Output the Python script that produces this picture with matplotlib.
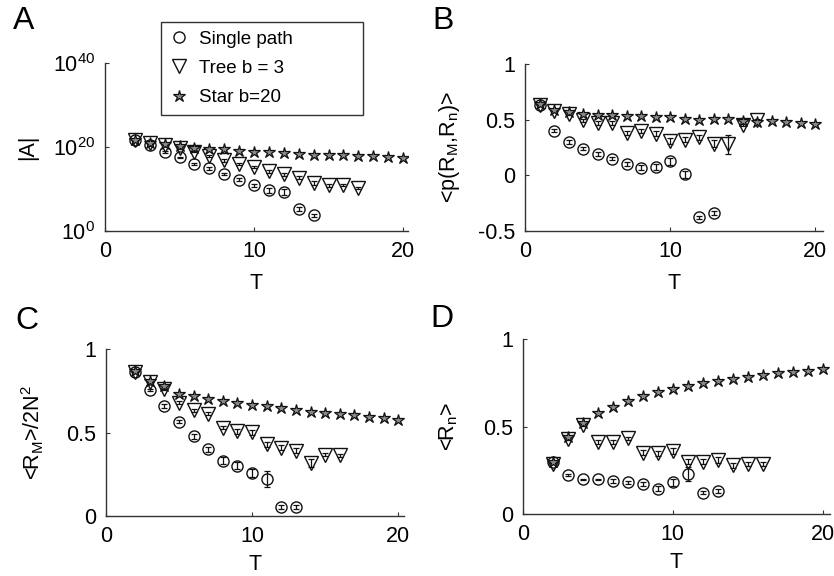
import numpy as np
import matplotlib
matplotlib.use('Agg')
import matplotlib.pyplot as plt

plt.rcParams['font.family'] = ['Liberation Sans', 'DejaVu Sans']
plt.rcParams['mathtext.fontset'] = 'custom'
plt.rcParams['mathtext.rm'] = 'Liberation Sans'
plt.rcParams['mathtext.it'] = 'Liberation Sans:italic'
plt.rcParams['mathtext.default'] = 'regular'

# ---- data ----
labels = ['Single path', 'Tree b = 3', 'Star b=20']

# A : log10 |A|
A_T_sp = list(range(2, 15))
A_sp = [21.7, 20.4, 18.8, 17.5, 16.0, 14.9, 13.6, 12.2, 10.9, 9.7, 9.2, 5.2, 3.7]
A_sp_err = [0.2, 0.2, 0.2, 0.2, 0.3, 0.3, 0.3, 0.4, 0.4, 0.6, 0.7, 0.4, 0.4]
A_T_tree = list(range(2, 18))
A_tree = [21.7, 20.9, 20.4, 19.8, 18.9, 17.8, 16.8, 16.0, 15.2, 14.2, 13.5, 12.7, 11.4, 10.9, 11.0, 10.2]
A_tree_err = [0.2, 0.2, 0.2, 0.2, 0.2, 0.3, 0.3, 0.3, 0.3, 0.3, 0.3, 0.3, 0.4, 0.4, 0.3, 0.3]
A_T_star = list(range(2, 21))
A_star = [21.7, 21.0, 20.6, 20.2, 19.8, 19.6, 19.4, 19.0, 18.9, 18.7, 18.6, 18.4, 18.2, 18.1, 18.0, 17.8, 17.8, 17.6, 17.4]

# B : <p(R_M,R_n)>
B_T_sp = list(range(1, 14))
B_sp = [0.63, 0.40, 0.30, 0.24, 0.19, 0.15, 0.10, 0.07, 0.075, 0.125, 0.008, -0.377, -0.34]
B_sp_err = [0.01, 0.015, 0.015, 0.015, 0.015, 0.015, 0.02, 0.025, 0.025, 0.03, 0.03, 0.015, 0.015]
B_T_tree = list(range(1, 17))
B_tree = [0.63, 0.58, 0.555, 0.495, 0.47, 0.47, 0.38, 0.40, 0.375, 0.31, 0.32, 0.34, 0.285, 0.28, 0.45, 0.50]
B_tree_err = [0.01, 0.01, 0.01, 0.015, 0.015, 0.015, 0.02, 0.02, 0.02, 0.025, 0.025, 0.025, 0.03, 0.085, 0.01, 0.01]
B_T_star = list(range(1, 21))
B_star = [0.64, 0.59, 0.57, 0.55, 0.54, 0.54, 0.53, 0.53, 0.52, 0.52, 0.51, 0.50, 0.51, 0.51, 0.485, 0.48, 0.485, 0.48, 0.47, 0.465]

# C : <R_M>/2N^2
C_T_sp = list(range(2, 14))
C_sp = [0.86, 0.754, 0.66, 0.566, 0.48, 0.40, 0.334, 0.304, 0.26, 0.224, 0.056, 0.056]
C_sp_err = [0.005, 0.005, 0.01, 0.01, 0.015, 0.015, 0.02, 0.02, 0.025, 0.045, 0.01, 0.01]
C_T_tree = list(range(2, 17))
C_tree = [0.86, 0.80, 0.76, 0.68, 0.634, 0.614, 0.53, 0.51, 0.504, 0.43, 0.41, 0.394, 0.32, 0.37, 0.366]
C_tree_err = [0.005, 0.005, 0.005, 0.01, 0.01, 0.01, 0.01, 0.015, 0.015, 0.015, 0.015, 0.015, 0.025, 0.01, 0.01]
C_T_star = list(range(2, 21))
C_star = [0.866, 0.81, 0.78, 0.734, 0.72, 0.704, 0.69, 0.68, 0.668, 0.66, 0.65, 0.638, 0.626, 0.618, 0.61, 0.604, 0.594, 0.586, 0.576]

# D : <R_n>
D_T_sp = list(range(2, 14))
D_sp = [0.30, 0.224, 0.20, 0.20, 0.192, 0.183, 0.173, 0.148, 0.183, 0.23, 0.124, 0.133]
D_sp_err = [0.005, 0.005, 0.005, 0.005, 0.01, 0.01, 0.01, 0.015, 0.02, 0.04, 0.01, 0.01]
D_T_tree = list(range(2, 17))
D_tree = [0.29, 0.43, 0.51, 0.414, 0.414, 0.433, 0.352, 0.348, 0.362, 0.30, 0.30, 0.31, 0.281, 0.287, 0.287]
D_tree_err = [0.005, 0.005, 0.005, 0.01, 0.01, 0.01, 0.015, 0.015, 0.015, 0.015, 0.015, 0.015, 0.015, 0.01, 0.01]
D_T_star = list(range(2, 21))
D_star = [0.30, 0.44, 0.523, 0.58, 0.614, 0.646, 0.675, 0.696, 0.716, 0.733, 0.751, 0.762, 0.772, 0.785, 0.795, 0.804, 0.812, 0.817, 0.827]

fig = plt.figure(figsize=(8.34, 5.76), dpi=100)

# axes rectangles (figure fractions)
axA = fig.add_axes([0.1259, 0.5990, 0.3633, 0.2917])
axB = fig.add_axes([0.6295, 0.5990, 0.3573, 0.2899])
axC = fig.add_axes([0.1271, 0.1033, 0.3573, 0.2908])
axD = fig.add_axes([0.6271, 0.1068, 0.3681, 0.3047])

ink = '#111111'
circ = dict(marker='o', ms=8, mfc='none', mec=ink, mew=1.0, ls='none')
tri = dict(marker='v', ms=9.5, mfc='none', mec=ink, mew=1.0, ls='none')
star = dict(marker='*', ms=9, mfc='#8a8a8a', mec=ink, mew=0.9, ls='none')
ebar = dict(fmt='none', ecolor=ink, elinewidth=0.9, capsize=2, capthick=0.9)


def draw(ax, Ts, ys, es, Tt, yt, et, Tst, yst):
    ax.errorbar(Ts, ys, yerr=es, **ebar)
    ax.errorbar(Tt, yt, yerr=et, **ebar)
    ax.plot(Ts, ys, label=labels[0], **circ)
    ax.plot(Tt, yt, label=labels[1], **tri)
    ax.plot(Tst, yst, label=labels[2], **star)


# panel A on log scale
ysA = 10.0 ** np.array(A_sp)
ytA = 10.0 ** np.array(A_tree)
esA = [ysA - 10.0 ** (np.array(A_sp) - np.array(A_sp_err)), 10.0 ** (np.array(A_sp) + np.array(A_sp_err)) - ysA]
etA = [ytA - 10.0 ** (np.array(A_tree) - np.array(A_tree_err)), 10.0 ** (np.array(A_tree) + np.array(A_tree_err)) - ytA]
draw(axA, A_T_sp, ysA, esA, A_T_tree, ytA, etA, A_T_star, 10.0 ** np.array(A_star))
axA.set_yscale('log')
axA.set_ylim(1, 1e40)
axA.set_yticks([1e0, 1e20, 1e40])
axA.minorticks_off()
axA.set_xlim(0, 20.33)
axA.set_ylabel('|A|')

draw(axB, B_T_sp, B_sp, B_sp_err, B_T_tree, B_tree, B_tree_err, B_T_star, B_star)
axB.set_ylim(-0.5, 1)
axB.set_yticks([-0.5, 0, 0.5, 1])
axB.set_yticklabels(['-0.5', '0', '0.5', '1'])
axB.set_xlim(0, 20.55)
axB.set_ylabel('<p(R$_M$,R$_n$)>')

draw(axC, C_T_sp, C_sp, C_sp_err, C_T_tree, C_tree, C_tree_err, C_T_star, C_star)
axC.set_ylim(0, 1)
axC.set_yticks([0, 0.5, 1])
axC.set_yticklabels(['0', '0.5', '1'])
axC.set_xlim(0, 20.4)
axC.set_ylabel('<R$_M$>/2N$^2$')

draw(axD, D_T_sp, D_sp, D_sp_err, D_T_tree, D_tree, D_tree_err, D_T_star, D_star)
axD.set_ylim(0, 1)
axD.set_yticks([0, 0.5, 1])
axD.set_yticklabels(['0', '0.5', '1'])
axD.set_xlim(0, 20.5)
axD.set_ylabel('<R$_n$>')

for ax in [axA, axB, axC, axD]:
    ax.set_xticks([0, 10, 20])
    ax.set_xlabel('T', fontsize=15.5)
    ax.yaxis.label.set_fontsize(15.5)
    ax.spines['top'].set_visible(False)
    ax.spines['right'].set_visible(False)
    for s in ['left', 'bottom']:
        ax.spines[s].set_color('#333333')
        ax.spines[s].set_linewidth(1.0)
    ax.tick_params(direction='in', length=3, width=0.8, labelsize=15.5, pad=7, colors='#333333', labelcolor='k')
    ax.xaxis.label.set_va('top')

axA.xaxis.set_label_coords(0.5, -0.25)
axB.xaxis.set_label_coords(0.5, -0.25)
axC.xaxis.set_label_coords(0.5, -0.225)
axD.xaxis.set_label_coords(0.5, -0.215)

axA.yaxis.set_label_coords(-0.22, 0.5)
axB.yaxis.set_label_coords(-0.21, 0.5)
axC.yaxis.set_label_coords(-0.20, 0.5)
axD.yaxis.set_label_coords(-0.205, 0.5)

leg = axA.legend(loc='upper left', bbox_to_anchor=(0.185, 0.673, 0.667, 0.571), mode='expand',
                 borderaxespad=0, fontsize=13.5, frameon=True, fancybox=False, edgecolor='k',
                 handlelength=1.0, handletextpad=0.6, labelspacing=0.65, borderpad=0.45)
leg.get_frame().set_linewidth(1.0)

fig.text(13 / 834, 1 - 6 / 576, 'A', fontsize=23, va='top')
fig.text(432 / 834, 1 - 6 / 576, 'B', fontsize=23, va='top')
fig.text(15 / 834, 1 - 306 / 576, 'C', fontsize=23, va='top')
fig.text(430 / 834, 1 - 304 / 576, 'D', fontsize=23, va='top')

fig.savefig('out.png', dpi=100)
